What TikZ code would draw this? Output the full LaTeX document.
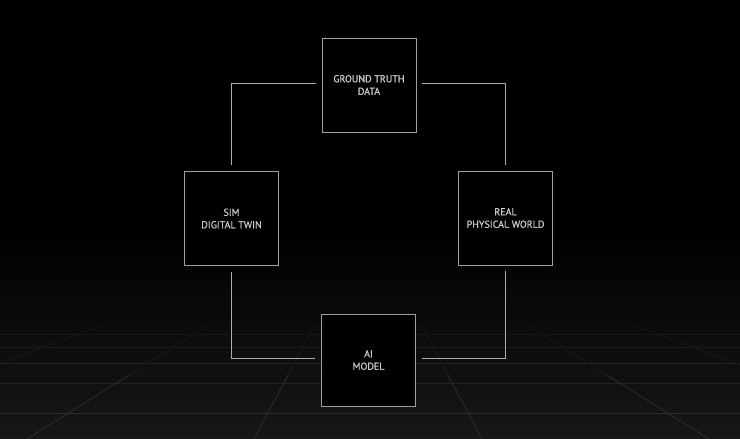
\documentclass[tikz,border=0pt]{standalone}
\usepackage{fontspec}
\newfontfamily\labelfont[FakeBold=0.5]{PT Sans}
\definecolor{boxc}{RGB}{165,158,138}
\definecolor{connc}{RGB}{175,173,166}
\definecolor{txtc}{RGB}{205,205,203}
\definecolor{floorc}{RGB}{23,23,23}
\definecolor{gridnear}{RGB}{46,46,46}
\definecolor{gridmid}{RGB}{36,36,36}
\definecolor{gridfar}{RGB}{27,27,27}
\tikzset{
  box/.style={draw=boxc, line width=0.9pt, fill=black, minimum width=94pt, minimum height=94pt,
    inner sep=0pt, align=center, text=txtc, font=\labelfont\fontsize{10}{12.5}\selectfont},
  conn/.style={draw=connc, line width=0.9pt, shorten <=6pt, shorten >=6pt},
  gridline/.style={line width=0.8pt},
}
\begin{document}
\begin{tikzpicture}[x=1pt,y=-1pt]
\useasboundingbox (0,0) rectangle (740,439);
\fill[black] (0,0) rectangle (740,439);
\shade[top color=black, bottom color=floorc] (0,225) rectangle (740,439);
% floor grid: horizontal lines
\draw[gridline, gridnear] (0,413) -- (740,413);
\draw[gridline, gridmid] (0,383) -- (740,383);
\draw[gridline, gridmid] (0,363) -- (740,363);
\draw[gridline, gridfar] (0,347) -- (740,347);
\draw[gridline, floorc!60!gridfar] (0,334) -- (740,334);
% floor grid: perspective lines (vanishing point 368,225)
\foreach \o in {-797,-569,-341,-114,114,341,569,797}{
  \pgfmathsetmacro{\s}{\o/214}
  \draw[gridline, floorc!50!gridfar] ({368+\s*100},325) -- ({368+\s*120},345);
  \draw[gridline, gridfar] ({368+\s*120},345) -- ({368+\s*150},375);
  \draw[gridline, gridnear] ({368+\s*150},375) -- ({368+\s*214},439);
}
% boxes
\node[box] (gt) at (369,85) {GROUND TRUTH\\DATA};
\node[box] (sim) at (231.5,218.5) {SIM\\DIGITAL TWIN};
\node[box] (real) at (505.5,218) {REAL\\PHYSICAL WORLD};
\node[box, minimum height=92pt] (ai) at (368.5,360) {AI\\MODEL};
% connectors
\draw[conn] ([yshift=2pt]gt.west) -| (sim.north);
\draw[conn] ([yshift=2pt]gt.east) -| (real.north);
\draw[conn] (sim.south) |- ([yshift=2pt]ai.west);
\draw[conn] (real.south) |- ([yshift=2pt]ai.east);
\end{tikzpicture}
\end{document}
